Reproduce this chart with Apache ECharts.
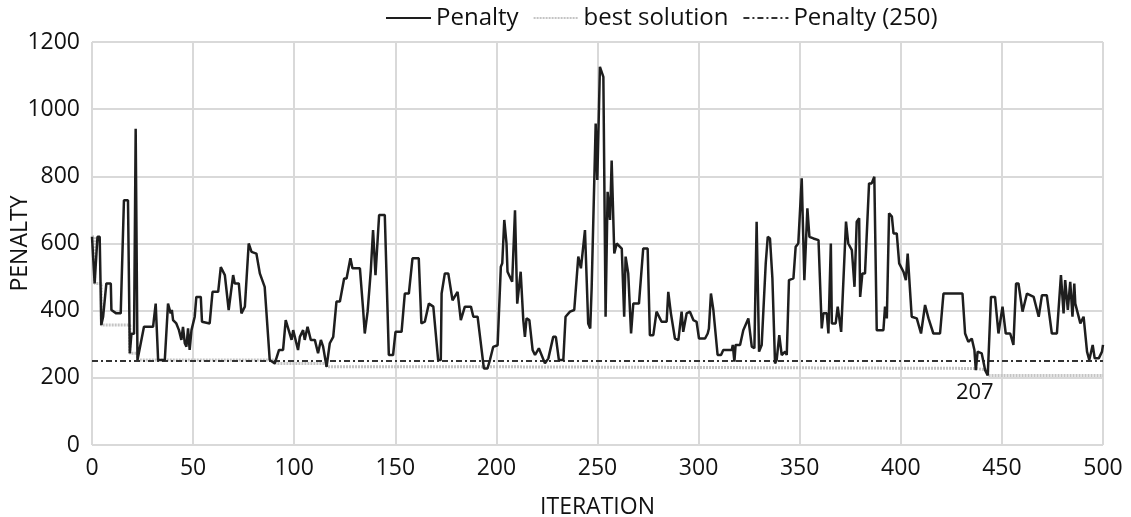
<!DOCTYPE html>
<html>
<head>
<meta charset="utf-8">
<script src="https://cdn.jsdelivr.net/npm/echarts@6/dist/echarts.min.js"></script>
<style>html,body{margin:0;padding:0;background:#fff}#c{width:1131px;height:517px}</style>
</head>
<body>
<div id="c"></div>
<script>
// Penalty trace (iteration, value)
const penaltyIter = [0,1.3,2.7,3.8,4.6,5.5,7.1,9.3,9.6,12,14.2,15.8,17.8,18.7,19.5,20.8,21.6,22.5,23.3,25.7,30.2,31.5,32.7,36,37.6,38.9,39.5,40.1,41.7,43,44.2,45,45.9,46.7,47.5,48.3,49.2,50.8,51.6,53.8,54.4,58.2,59.6,62.4,63.7,65.7,67.6,69.8,70.6,72.6,73.9,75.6,77.5,78.9,81.3,83,85.4,86.3,87.9,90.4,92.5,94.5,95.8,
98.7,99.5,101.9,102.8,104.4,105.2,106.6,108.2,110.2,111.8,113.2,114.3,116,117.6,119.3,120.9,122.6,124.7,125.9,127.8,128.8,132.5,134.1,134.9,136.3,137.9,139,140.2,142,144.8,146.8,148.9,150.1,153.1,154.7,156.7,158.5,161.6,162.9,164.6,166.6,168.8,171.2,172.5,172.9,174.5,176.2,178.3,180.8,182.4,184.4,187.4,188.6,190.7,193.8,195.6,
196.8,198.4,200.6,202.2,202.9,203.9,205,205.5,206.2,207.8,209.2,210.3,212,213.3,214.1,214.9,216.3,217.9,219.1,221,224,225.7,228.1,229.4,230.9,233.1,234.2,236.4,238.5,240.5,241.8,243.8,245.4,246.4,247.1,247.9,249.1,249.9,251.2,252.9,254,255,256.2,257,258.3,259.5,262,263.2,263.9,265.2,266.6,267.7,270.5,272.6,274.8,275.9,277.6,279.2,281.7,284.2,285,286.3,288.3,290,291.6,292.4,294.1,
295.7,297.4,299,300.2,303.2,304.5,305.1,306.1,307.3,308.1,309.4,311.1,312.2,316.4,316.9,317.7,318.3,320.5,322.1,324.6,326.3,327.6,328.7,329.9,331.2,332,333.2,334.2,335.3,336.5,337.8,338.6,339.9,341.1,342.8,343.6,344.7,346.9,348,349.3,351,352.3,353,353.8,354.8,356.8,359.3,360.1,360.9,361.7,363.4,364.2,365.4,365.9,367.8,368.8,370.5,371.1,372.9,374,375.8,377.1,378.2,379.4,379.9,381,382.3,384.3,385.6,386.9,388.1,391.4,392.2,393.1,394.2,395.6,396.4,
398,399.2,401.3,402.5,403.4,404.1,405.4,407.9,408.7,410,412,413.7,414.5,416.1,419.4,421.1,430.5,431.8,433.4,435.1,436.4,437.1,438,440,441.7,443,444.6,446.6,448.3,450.3,451.9,454.1,455.7,457,458.2,460.2,462.4,465.7,468.2,469.8,472.2,474.7,477.2,479.2,480.5,481.3,482.6,483.8,484.9,485.8,486.3,488.8,489.6,490.4,492.1,493.2,494.9,495.9,497.9,499.5,500];
const penaltyVal = [620,481,620,620,357,382,481,481,402,392,392,729,729,273,331,331,942,253,253,352,352,421,253,253,421,392,402,372,362,342,313,352,303,293,347,283,342,382,441,441,367,362,456,456,530,506,402,506,481,481,392,412,600,575,570,511,471,466,253,243,283,283,372,
313,342,283,322,342,313,352,313,313,273,313,293,233,303,322,427,427,496,496,556,526,526,402,332,397,521,640,506,685,685,268,268,337,337,451,451,556,556,362,367,421,412,253,253,451,511,511,431,456,372,412,412,382,382,228,228,
253,292,297,531,541,670,600,516,511,486,699,421,516,372,322,377,372,283,268,288,243,258,322,322,253,253,382,397,402,561,526,640,362,347,466,471,957,789,1126,1096,382,754,670,847,570,600,585,382,561,511,332,421,421,585,585,327,327,397,367,367,456,392,317,312,397,337,392,
397,372,367,317,317,332,347,451,402,397,268,268,283,283,298,248,298,298,342,377,293,288,665,278,298,298,541,620,615,496,243,253,327,268,278,268,491,496,590,600,794,491,491,705,620,615,610,610,347,392,392,332,600,362,362,412,337,342,665,600,580,471,665,675,441,511,511,779,779,799,342,342,412,377,690,680,630,
630,541,516,491,570,565,382,377,372,332,417,377,372,332,332,451,451,332,307,317,283,223,278,273,223,207,441,441,332,412,332,332,298,481,481,397,451,441,382,446,446,332,332,506,392,491,402,486,382,481,421,362,372,382,278,253,298,258,258,278,298];
// Best solution (minimum found so far)
const bestIter = [0,1.3,4.6,18.7,22.5,90.4,116,193.8,437.1,443,500];
const bestVal  = [620,481,357,273,253,243,233,228,223,207,207];
// Reference penalty level
const refIter = [0,500];
const refVal  = [250,250];
// Annotated best point
const bestPoint = [443,207];
const xTicks = {min:0,max:500,interval:50};
const yTicks = {min:0,max:1200,interval:200};

const pen = penaltyIter.map((x,i)=>[x,penaltyVal[i]]);
const best = bestIter.map((x,i)=>[x,bestVal[i]]);
const ref = refIter.map((x,i)=>[x,refVal[i]]);

const F = 'Open Sans';
const TXT = '#111';
const chart = echarts.init(document.getElementById('c'), null, {renderer:'canvas'});
chart.setOption({
  backgroundColor:'#fff',
  animation:false,
  textStyle:{fontFamily:F},
  legend:{
    top:6, left:385, padding:0, itemWidth:45, itemHeight:12, itemGap:14,
    itemStyle:{opacity:0},
    textStyle:{fontSize:24,color:TXT,fontFamily:F},
    data:['Penalty','best solution','Penalty (250)']
  },
  grid:{left:92,right:28,top:42,bottom:72,containLabel:false,outerBoundsMode:'none'},
  xAxis:{
    type:'value', min:xTicks.min, max:xTicks.max, interval:xTicks.interval,
    name:'ITERATION', nameLocation:'middle', nameGap:51, nameMoveOverlap:false,
    nameTextStyle:{fontSize:23,color:TXT,fontFamily:F},
    axisLine:{show:false}, axisTick:{show:false},
    axisLabel:{fontSize:23,color:TXT,margin:12,fontFamily:F,formatter:v=>String(v)},
    splitLine:{show:true,lineStyle:{color:'#d9d9d9',width:2}}
  },
  yAxis:{
    type:'value', min:yTicks.min, max:yTicks.max, interval:yTicks.interval,
    name:'PENALTY', nameLocation:'middle', nameGap:60, nameRotate:90, nameMoveOverlap:false,
    nameTextStyle:{fontSize:23,color:TXT,fontFamily:F},
    axisLine:{show:false}, axisTick:{show:false},
    axisLabel:{fontSize:23,color:TXT,margin:12,fontFamily:F,formatter:v=>String(v)},
    splitLine:{show:true,lineStyle:{color:'#d9d9d9',width:2}}
  },
  series:[
    {name:'best solution',type:'line',step:'end',data:best,symbol:'none',z:2,
     lineStyle:{color:'#c4c4c4',width:3,type:[2,1]},itemStyle:{color:'#c4c4c4'}},
    {name:'Penalty (250)',type:'line',data:ref,symbol:'none',z:3,
     lineStyle:{color:'#333',width:2,type:[6,3,2,3]},itemStyle:{color:'#333'}},
    {name:'Penalty',type:'line',data:pen,symbol:'none',z:4,
     lineStyle:{color:'#1e1e1e',width:2.5},itemStyle:{color:'#1e1e1e'},
     markPoint:{symbol:'circle',symbolSize:1,itemStyle:{color:'rgba(0,0,0,0)'},
       data:[{coord:bestPoint,value:bestPoint[1]}],
       label:{show:true,position:'bottom',distance:6,offset:[-13,0],fontSize:22,color:TXT,fontFamily:F,formatter:p=>String(p.value)}}}
  ]
});
</script>
</body>
</html>
